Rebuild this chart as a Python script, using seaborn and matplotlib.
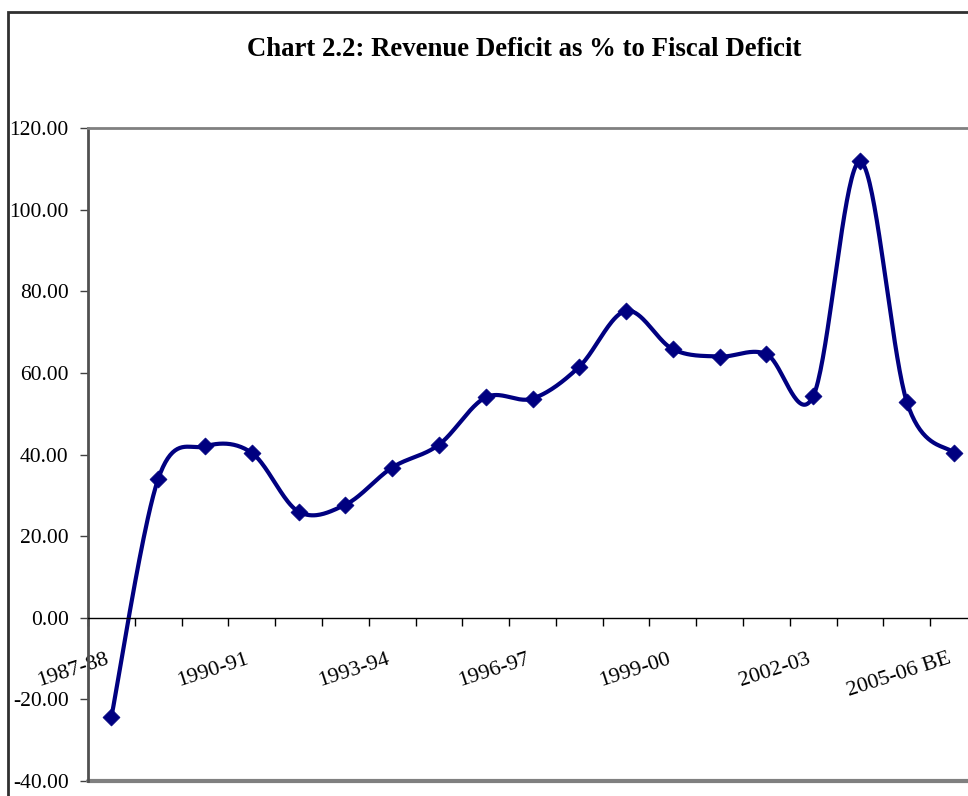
import numpy as np
import pandas as pd
import matplotlib
matplotlib.use("Agg")
import matplotlib.pyplot as plt
from matplotlib.patches import Rectangle
from matplotlib.ticker import FixedLocator, FuncFormatter
from matplotlib.transforms import ScaledTranslation
import seaborn as sns

# Revenue deficit as a share of fiscal deficit, by fiscal year
years = ["1987-88", "1988-89", "1989-90", "1990-91", "1991-92", "1992-93",
         "1993-94", "1994-95", "1995-96", "1996-97", "1997-98", "1998-99",
         "1999-00", "2000-01", "2001-02", "2002-03", "2003-04", "2004-05",
         "2005-06 BE"]
ratio = [-24.3, 34.0, 42.0, 40.4, 26.0, 27.7, 36.8, 42.4, 54.0, 53.7,
         61.5, 75.2, 65.8, 64.0, 64.6, 54.3, 111.8, 52.9, 40.4]
shown_labels = ["1987-88", "1990-91", "1993-94", "1996-97", "1999-00",
                "2002-03", "2005-06 BE"]

sns.set_style("white")
plt.rcParams["font.family"] = ["Liberation Serif", "DejaVu Serif"]
plt.rcParams["text.color"] = "black"
plt.rcParams["xtick.color"] = "black"
plt.rcParams["ytick.color"] = "black"

NAVY = "#000080"

df = pd.DataFrame({"pos": np.arange(len(years)), "year": years, "ratio": ratio})


def smooth_curve(x, y, n=40):
    """Bezier smoothing through every point (Catmull-Rom style control points)."""
    x = np.asarray(x, float)
    y = np.asarray(y, float)
    px = np.concatenate([[x[0]], x, [x[-1]]])
    py = np.concatenate([[y[0]], y, [y[-1]]])
    xs, ys = [], []
    t = np.linspace(0, 1, n)
    for i in range(1, len(px) - 2):
        p0 = np.array([px[i], py[i]])
        p3 = np.array([px[i + 1], py[i + 1]])
        p1 = p0 + (np.array([px[i + 1], py[i + 1]]) - np.array([px[i - 1], py[i - 1]])) / 6
        p2 = p3 - (np.array([px[i + 2], py[i + 2]]) - np.array([px[i], py[i]])) / 6
        b = ((1 - t) ** 3)[:, None] * p0 + (3 * (1 - t) ** 2 * t)[:, None] * p1 \
            + (3 * (1 - t) * t ** 2)[:, None] * p2 + (t ** 3)[:, None] * p3
        xs.append(b[:, 0])
        ys.append(b[:, 1])
    return np.concatenate(xs), np.concatenate(ys)


cx, cy = smooth_curve(df["pos"], df["ratio"])
curve = pd.DataFrame({"pos": cx, "ratio": cy})

fig = plt.figure(figsize=(9.68, 7.96), dpi=100)
W, H = 968, 796
ax = fig.add_axes([88 / W, 1 - 781 / H, (977 - 88) / W, (781 - 128) / H])

sns.lineplot(data=curve, x="pos", y="ratio", sort=False, color=NAVY,
             linewidth=3.0, ax=ax, estimator=None)
sns.scatterplot(data=df, x="pos", y="ratio", marker="D", s=75, color=NAVY,
                edgecolor=NAVY, linewidth=0.5, ax=ax, zorder=5)

ax.set_xlim(-0.5, len(years) - 0.5)
ax.set_ylim(-40, 120)
ax.set_xlabel("")
ax.set_ylabel("")

# y axis
ax.set_yticks(np.arange(-40, 121, 20))
ax.yaxis.set_major_formatter(FuncFormatter(lambda v, p: f"{v:.2f}"))
ax.tick_params(axis="y", which="major", direction="out", length=6, width=1,
               color="#404040", labelsize=15.5, pad=8, left=True,
               labelcolor="black")

# category axis sits on the zero line
ax.spines["bottom"].set_position(("data", 0))
ax.spines["bottom"].set_color("black")
ax.spines["bottom"].set_linewidth(1.0)
ax.xaxis.set_minor_locator(FixedLocator(np.arange(-0.5, len(years), 1.0)))
label_pos = [years.index(s) for s in shown_labels]
ax.set_xticks(label_pos)
ax.set_xticklabels(shown_labels)
ax.tick_params(axis="x", which="minor", direction="out", length=6, width=1,
               color="black", bottom=True)
ax.tick_params(axis="x", which="major", length=0, labelsize=16, pad=23,
               labelcolor="black")
shift = ScaledTranslation(-6 / 100, 0, fig.dpi_scale_trans)
for lab in ax.get_xticklabels():
    lab.set_rotation(18)
    lab.set_ha("right")
    lab.set_va("top")
    lab.set_rotation_mode("anchor")
    lab.set_transform(lab.get_transform() + shift)

ax.spines["left"].set_color("#505050")
ax.spines["left"].set_linewidth(2.0)
ax.spines["top"].set_color("#808080")
ax.spines["top"].set_linewidth(2.0)
ax.spines["right"].set_visible(False)
ax.axhline(-40, color="#808080", linewidth=3.0, clip_on=False, zorder=1)

# chart area frame
fig.patches.append(Rectangle((8 / W, -0.1), 1.2, (796 - 12) / H + 0.1,
                             transform=fig.transFigure, fill=False,
                             edgecolor="#303030", linewidth=2.0))

fig.text(524 / W, 1 - 50 / H, "Chart 2.2: Revenue Deficit as % to Fiscal Deficit",
         ha="center", va="center", fontsize=19.3, fontweight="bold",
         color="black")

fig.savefig("out.png", dpi=100)
